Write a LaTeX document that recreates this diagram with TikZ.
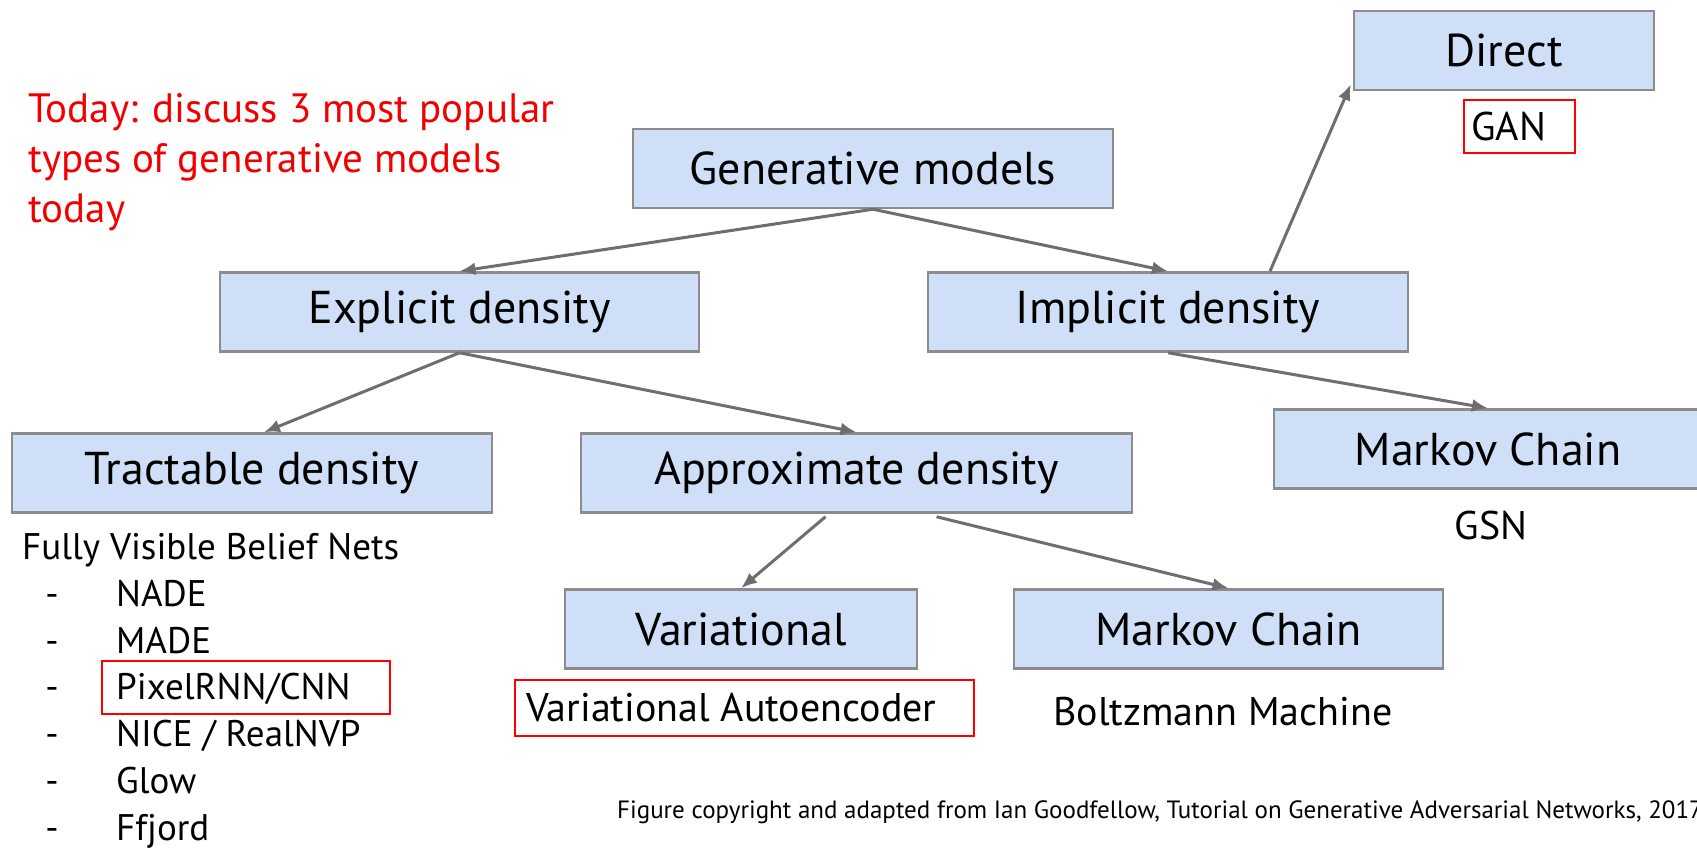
\documentclass[tikz,border=0pt]{standalone}
\usepackage{fontspec}
\setmainfont{PT Sans}
\usepackage{tikz}
\usetikzlibrary{arrows.meta,calc}

\definecolor{boxfill}{HTML}{CFDFF8}
\definecolor{boxline}{HTML}{8C8C8C}
\definecolor{linkgray}{HTML}{6E6E6E}
\definecolor{notered}{HTML}{F20000}

\begin{document}
\begin{tikzpicture}[x=1pt,y=-1pt,
    model/.style={draw=boxline, fill=boxfill, line width=2.5pt, inner sep=0pt,
      minimum height=79pt, font=\fontsize{46}{54}\selectfont},
    leaf/.style={inner sep=0pt, font=\fontsize{40}{48}\selectfont},
    entry/.style={inner sep=0pt, font=\fontsize{37}{44}\selectfont},
    redbox/.style={draw=red, line width=2.5pt, inner sep=0pt},
    arrowline/.style={draw=linkgray, line width=3pt, -{Latex[length=16pt,width=13pt]}}]
    \useasboundingbox (0,0) rectangle (1697,848);

    % boxes of the tree
    \node [model, minimum width=480] (gen) at (873,168.5) {Generative models};
    \node [model, minimum width=300] (direct) at (1504,50.5) {Direct};
    \node [model, minimum width=479] (expl) at (459.5,312) {Explicit density};
    \node [model, minimum width=480] (impl) at (1168,312) {Implicit density};
    \node [model, minimum width=480] (tract) at (252,473) {Tractable density};
    \node [model, minimum width=551] (approx) at (856.5,473) {Approximate density};
    \node [model, minimum width=428] (chainr) at (1488,449) {Markov Chain};
    \node [model, minimum width=352] (var) at (741,629) {Variational};
    \node [model, minimum width=429] (chainm) at (1228.5,629) {Markov Chain};

    % leaves
    \node [redbox, minimum width=111, minimum height=53] (ganbox) at (1519.5,126.5) {};
    \node [leaf, anchor=west] (gan) at (1471,126) {GAN};
    \node [leaf] (gsn) at (1491,525) {GSN};
    \node [redbox, minimum width=459, minimum height=56] (vaebox) at (744.5,708) {};
    \node [leaf, anchor=west] (vae) at (526,708) {Variational Autoencoder};
    \node [leaf] (boltz) at (1223,712) {Boltzmann Machine};
    \node [entry, anchor=west] (fvbn) at (22,550) {Fully Visible Belief Nets};

    \foreach \name [count=\i] in {NADE,MADE,PixelRNN/CNN,NICE / RealNVP,Glow,Ffjord} {
        \node [entry, anchor=base] (dash\i) at (52,559.5+46.8*\i) {-};
        \node [entry, anchor=base west] (item\i) at (116,559.5+46.8*\i) {\name};
    }
    \node [redbox, minimum width=288, minimum height=53] (pixbox) at (246,687.5) {};

    \node [align=left, anchor=north west, inner sep=0pt, text=notered,
      font=\fontsize{41}{50}\selectfont] (today) at (28,93)
      {Today: discuss 3 most popular\\types of generative models\\today};
    \node [leaf, anchor=west, font=\fontsize{25}{30}\selectfont] (credit) at (617,812)
      {Figure copyright and adapted from Ian Goodfellow, Tutorial on Generative Adversarial Networks, 2017};

    % arrows
    \draw [arrowline] (gen.south) -- (expl.north);
    \draw [arrowline] (gen.south) -- (impl.north);
    \draw [arrowline] ($(impl.north)+(102,0)$) -- ($(direct.south west)+(-2,-7)$);
    \draw [arrowline] (impl.south) -- (chainr.north);
    \draw [arrowline] (expl.south) -- ($(tract.north)+(12,0)$);
    \draw [arrowline] (expl.south) -- (approx.north);
    \draw [arrowline] ($(approx.south)+(-31,3)$) -- (var.north);
    \draw [arrowline] ($(approx.south)+(80,3)$) -- (chainm.north);
\end{tikzpicture}
\end{document}
